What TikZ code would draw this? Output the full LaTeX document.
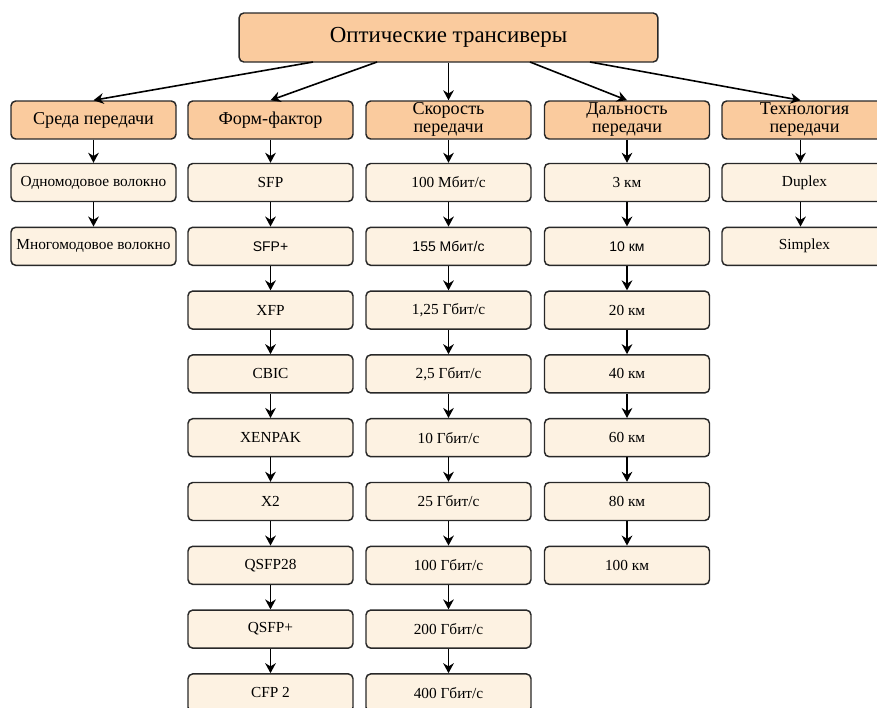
\documentclass[tikz,border=0pt]{standalone}
\usepackage{fontspec}
\setmainfont{Liberation Serif}
\newfontfamily\arialf{Liberation Sans}
\usetikzlibrary{arrows.meta}
\definecolor{headfill}{RGB}{250,203,158}
\definecolor{itemfill}{RGB}{253,242,226}
\definecolor{edgecol}{RGB}{40,40,40}
\begin{document}
\begin{tikzpicture}[x=0.75pt,y=-0.75pt,
  box/.style={draw=edgecol, line width=1.1pt, rounded corners=3.5pt, minimum width=123.75pt, minimum height=28.5pt, inner sep=0pt},
  headbox/.style={box, fill=headfill, font=\fontsize{13.6}{14.6}\selectfont, align=center},
  itembox/.style={box, fill=itemfill, font=\fontsize{11.5}{13}\selectfont},
  arr/.style={-{Stealth[length=7.5pt,width=8pt]}, line width=1.2pt, black}]
\useasboundingbox (0,0) rectangle (877,707);
\clip (0,0) rectangle (877,707);
% top
\node[box, fill=headfill, minimum width=314pt, minimum height=36.75pt, font=\fontsize{17.2}{19}\selectfont] (top) at (448.5,37.5) {Оптические трансиверы};
% headers
\node[headbox] (h1) at (93.5,120) {Среда передачи};
\node[headbox] (h2) at (270.5,120) {Форм-фактор};
\node[headbox] (h3) at (448.5,120) {\raisebox{3pt}{\begin{tabular}{@{}c@{}}Скорость\\[-1pt]передачи\end{tabular}}};
\node[headbox] (h4) at (627,120) {\raisebox{3pt}{\begin{tabular}{@{}c@{}}Дальность\\[-1pt]передачи\end{tabular}}};
\node[headbox] (h5) at (804.5,120) {\raisebox{3pt}{\begin{tabular}{@{}c@{}}Технология\\[-1pt]передачи\end{tabular}}};
% arrows from top
\coordinate (s1) at (313,62);
\coordinate (s2) at (377,62);
\coordinate (s4) at (530,62);
\coordinate (s5) at (590,62);
\draw[arr] (s1) -- (h1.north);
\draw[arr] (s2) -- (h2.north);
\draw[arr] (top.south) -- (h3.north);
\draw[arr] (s4) -- (h4.north);
\draw[arr] (s5) -- ([xshift=-3pt]h5.north);
% column 1
\foreach \t [count=\i] in {Одномодовое волокно, Многомодовое волокно}
  \node[itembox] (a\i) at (93.5,{182.5+63.8*(\i-1)}) {\t};
% column 2
\foreach \t [count=\i] in {SFP, {\arialf\fontsize{10.5}{12}\selectfont SFP+}, XFP, CBIC, XENPAK, X2, QSFP28, QSFP+, CFP 2}
  \node[itembox] (b\i) at (270.5,{182.5+63.8*(\i-1)}) {\t};
% column 3
\foreach \t [count=\i] in {100 Мбит/с, {\arialf\fontsize{10.5}{12}\selectfont 155 Мбит/с}, {1,25 Гбит/с}, {2,5 Гбит/с}, 10 Гбит/с, 25 Гбит/с, 100 Гбит/с, 200 Гбит/с, 400 Гбит/с}
  \node[itembox] (c\i) at (448.5,{182.5+63.8*(\i-1)}) {\t};
% column 4
\foreach \t [count=\i] in {3 км, {\arialf\fontsize{10.5}{12}\selectfont 10 км}, 20 км, 40 км, 60 км, 80 км, 100 км}
  \node[itembox] (d\i) at (627,{182.5+63.8*(\i-1)}) {\t};
% column 5
\foreach \t [count=\i] in {Duplex, Simplex}
  \node[itembox] (e\i) at (804.5,{182.5+63.8*(\i-1)}) {\t};
% vertical arrows
\draw[arr] (h1.south) -- (a1.north);
\draw[arr] (a1.south) -- (a2.north);
\draw[arr] (h2.south) -- (b1.north);
\foreach \i [evaluate=\i as \j using int(\i+1)] in {1,...,8}
  \draw[arr] (b\i.south) -- (b\j.north);
\draw[arr] (h3.south) -- (c1.north);
\foreach \i [evaluate=\i as \j using int(\i+1)] in {1,...,8}
  \draw[arr] (c\i.south) -- (c\j.north);
\draw[arr] (h4.south) -- (d1.north);
\foreach \i [evaluate=\i as \j using int(\i+1)] in {1,...,6}
  \draw[arr] (d\i.south) -- (d\j.north);
\draw[arr] ([xshift=-3pt]h5.south) -- ([xshift=-3pt]e1.north);
\draw[arr] ([xshift=-3pt]e1.south) -- ([xshift=-3pt]e2.north);
\end{tikzpicture}
\end{document}
